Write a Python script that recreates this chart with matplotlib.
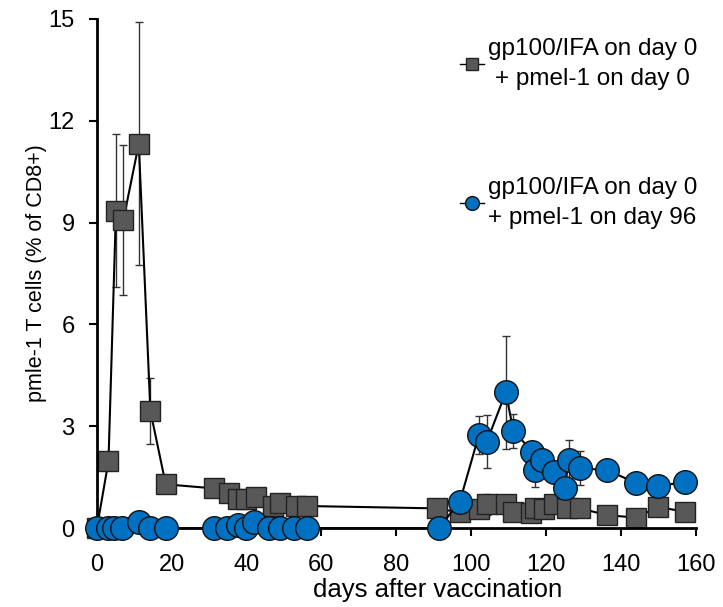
import matplotlib.pyplot as plt
from matplotlib.lines import Line2D

plt.rcParams['font.family'] = ['Liberation Sans', 'DejaVu Sans']

# data
gray_x = [0, 3.1, 5.1, 7.1, 11.2, 14.3, 18.4, 31.2, 35.2, 37.8, 39.8, 42.4,
          47, 49, 53.1, 56.2, 90.9, 97, 102.1, 104.2, 109.3, 111.3, 115.9,
          117, 119.5, 122.1, 125.6, 129.2, 136.4, 144, 150.1, 157.3]
gray_y = [0, 1.97, 9.35, 9.08, 11.32, 3.45, 1.29, 1.17, 1.02, 0.85, 0.86, 0.92,
          0.65, 0.73, 0.65, 0.65, 0.58, 0.46, 0.55, 0.70, 0.71, 0.48, 0.43,
          0.58, 0.55, 0.70, 0.58, 0.58, 0.38, 0.31, 0.62, 0.48]
gray_err = [0, 0.1, 2.25, 2.2, 3.58, 0.97, 0.1, 0.1, 0.1, 0.1, 0.1, 0.1,
            0.1, 0.1, 0.1, 0.1, 0.05, 0.1, 0.1, 0.3, 0.15, 0.1, 0.1,
            0.1, 0.1, 0.15, 0.1, 0.1, 0.05, 0.05, 0.1, 0.05]

blue_x = [0, 3.1, 4.6, 6.6, 11.2, 14.3, 18.4, 31.2, 34.7, 37.8, 39.8, 41.9,
          46, 49, 52.6, 56.2, 91.4, 97, 102.1, 104.2, 109.3, 111.3, 116.4,
          117, 119, 122.1, 125.1, 126.1, 129.2, 136.4, 144, 150.1, 157.3]
blue_y = [0, 0, 0, 0, 0.19, 0, 0, 0, 0, 0.1, 0, 0.19, 0, 0, 0, 0,
          0, 0.78, 2.74, 2.54, 4.0, 2.87, 2.25, 1.71, 2.0, 1.66, 1.19, 2.0,
          1.76, 1.71, 1.33, 1.25, 1.35]
blue_err = [0] * 16 + [0, 0.1, 0.55, 0.78, 1.67, 0.5, 0.2, 0.5, 0.2, 0.2,
                       0.2, 0.6, 0.5, 0.2, 0.12, 0.1, 0.1]

labels = ['gp100/IFA on day 0\n+ pmel-1 on day 0',
          'gp100/IFA on day 0\n+ pmel-1 on day 96']

gray = '#585858'
blue = '#0070c0'

fig = plt.figure(figsize=(7.23, 6.07), dpi=100)
ax = fig.add_axes([0.134, 0.130, 0.828, 0.839])

ax.errorbar(gray_x, gray_y, yerr=gray_err, color='black', lw=1.5,
            ecolor='#333333', elinewidth=1, capsize=3, capthick=1,
            marker='s', ms=14, mfc=gray, mec='#222222', mew=1,
            clip_on=False, zorder=2)
ax.errorbar(blue_x, blue_y, yerr=blue_err, color='black', lw=1.5,
            ecolor='#333333', elinewidth=1, capsize=3, capthick=1,
            marker='o', ms=17, mfc=blue, mec='#111111', mew=1,
            clip_on=False, zorder=3)

ax.set_xlim(0, 160)
ax.set_ylim(0, 15)
ax.set_xticks(range(0, 161, 20))
ax.set_yticks([0, 3, 6, 9, 12, 15])
for s in ['top', 'right']:
    ax.spines[s].set_visible(False)
for s in ['left', 'bottom']:
    ax.spines[s].set_linewidth(2)
ax.tick_params(direction='out', length=6, width=1.5, labelsize=17)
ax.tick_params(axis='x', pad=13)
ax.tick_params(axis='y', pad=10)
ax.set_xlabel('days after vaccination', fontsize=18.5, labelpad=3)
ax.xaxis.set_label_coords(0.57, -0.098)
ax.set_ylabel('pmle-1 T cells (% of CD8+)', fontsize=15.5, labelpad=1)

handles = [Line2D([], [], color='black', lw=1, marker='s', ms=9, mfc=gray, mec='#222222'),
           Line2D([], [], color='black', lw=1, marker='o', ms=10, mfc=blue, mec='#111111')]
leg = ax.legend(handles, labels, loc='upper right', bbox_to_anchor=(1.035, 1.0),
                frameon=False, fontsize=17.5, handlelength=1.0, handletextpad=0.15,
                labelspacing=3.6, borderpad=0.3)
for t in leg.get_texts():
    t.set_multialignment('center')
    t.set_linespacing(1.45)

fig.savefig('out.png', dpi=100)
